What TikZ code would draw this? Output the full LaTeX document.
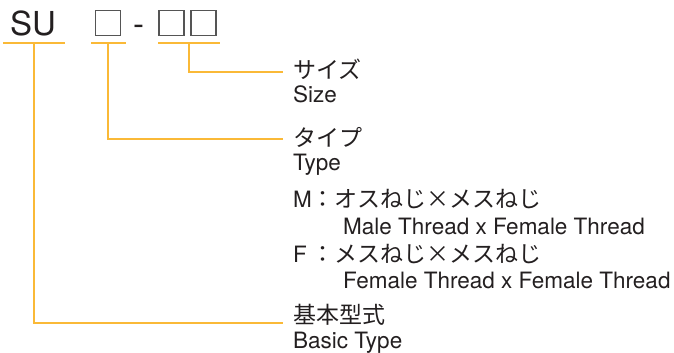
\documentclass[tikz,border=0pt]{standalone}
\usepackage{fontspec}
\setmainfont{TeX Gyre Heros}
\newfontfamily\jpfont{Noto Sans CJK JP}
\definecolor{leadorange}{RGB}{250,185,55}
\definecolor{ink}{RGB}{35,31,32}
\definecolor{slotgray}{RGB}{85,85,85}

\begin{document}
\begin{tikzpicture}[x=1pt,y=-1pt,inner sep=0pt,
  lbl/.style={anchor=base west,text=ink,font=\fontsize{22.5}{27}\selectfont},
  jlbl/.style={lbl,font=\jpfont\fontsize{23}{27}\selectfont},
  big/.style={lbl,font=\fontsize{33}{40}\selectfont},
  slot/.style={draw=slotgray,line width=1.3pt,minimum size=25pt},
  lead/.style={draw=leadorange,line width=1.7pt}]
  \useasboundingbox (0,0) rectangle (674,353);
  % model code
  \node[big] (su) at (10,36) {SU};
  \node[slot] (s1) at (108,23) {};
  \node[big] (dash) at (133,36) {-};
  \node[slot] (s2) at (171.5,23) {};
  \node[slot] (s3) at (203.5,23) {};
  % labels
  \node[jlbl] (sizeJ) at (293,78) {サイズ};
  \node[lbl] (sizeE) at (293,102) {Size};
  \node[jlbl] (typeJ) at (293,146) {タイプ};
  \node[lbl] (typeE) at (293,170) {Type};
  \node[lbl] (keyM) at (293,207) {M{\jpfont\fontsize{23}{27}\selectfont ：オスねじ×メスねじ}};
  \node[lbl] (descM) at (343,234) {Male Thread x Female Thread};
  \node[lbl] (keyF) at (293,262) {\rlap{F}\hphantom{M}{\jpfont\fontsize{23}{27}\selectfont ：メスねじ×メスねじ}};
  \node[lbl] (descF) at (343,288) {Female Thread x Female Thread};
  \node[jlbl] (baseJ) at (293,323) {基本型式};
  \node[lbl] (baseE) at (293,348) {Basic Type};
  % underlines and leaders
  \coordinate (uSuL) at (3,43);   \coordinate (uSuR) at (65,43);
  \coordinate (uS1L) at (91,43);  \coordinate (uS1R) at (126,43);
  \coordinate (uS2L) at (158,43); \coordinate (uS2R) at (220,43);
  \coordinate (tapBase) at (34,43);
  \coordinate (tapType) at (108,43);
  \coordinate (tapSize) at (189,43);
  \coordinate (endSize) at (283,72);
  \coordinate (endType) at (283,139);
  \coordinate (endBase) at (283,323);
  \draw[lead] (uSuL) -- (uSuR);
  \draw[lead] (uS1L) -- (uS1R);
  \draw[lead] (uS2L) -- (uS2R);
  \draw[lead] (tapSize) |- (endSize);
  \draw[lead] (tapType) |- (endType);
  \draw[lead] (tapBase) |- (endBase);
\end{tikzpicture}
\end{document}
